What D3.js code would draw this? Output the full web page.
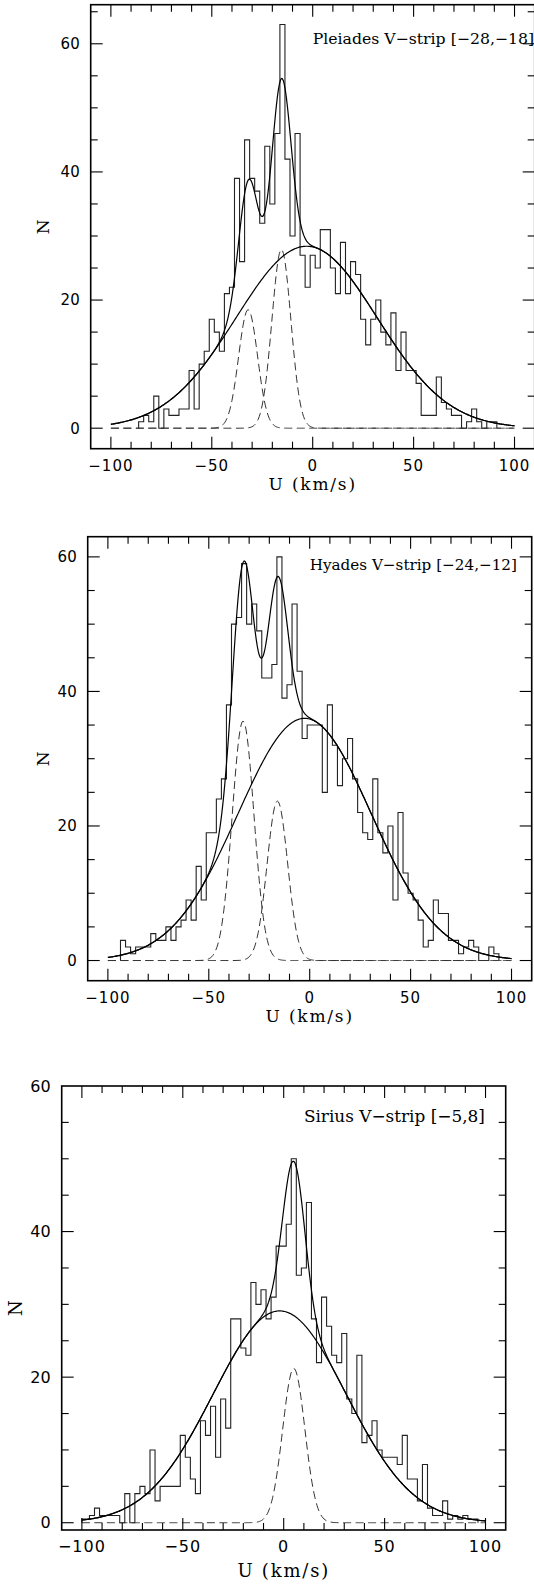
<!DOCTYPE html>
<html lang="en">
<head>
<meta charset="UTF-8">
<title>U velocity distributions in V strips</title>
<script src="https://d3js.org/d3.v7.min.js"></script>
<style>
  body { margin: 0; background: #fff; }
  svg { display: block; }
  .tick-label { font-family: "DejaVu Sans", sans-serif; fill: #000; }
  .axis-title { font-family: "DejaVu Serif", serif; fill: #000; }
  .panel-title { font-family: "DejaVu Serif", serif; fill: #000; }
  .frame { fill: none; stroke: #000; stroke-width: 1.6; }
  .tick { stroke: #000; stroke-width: 1.1; }
  .hist { fill: none; stroke: #222; stroke-width: 1.1; }
  .fit { fill: none; stroke: #000; stroke-width: 1.2; }
  .comp { fill: none; stroke: #333; stroke-width: 1; stroke-dasharray: 8 4.5; }
</style>
</head>
<body>
<script>
// histogram bins are 2.5 km/s wide, counts listed from the first bin centre
const binWidth = 2.5;

const pleiadesFirstBin = -85;
const pleiadesCounts = [
  1, 2, 1, 5, 0, 3, 2, 2, 3, 3, 9, 3, 10, 12, 17, 15, 12, 21, 22, 39,
  26, 45, 39, 37, 32, 44, 35, 46, 63, 42, 30, 46, 27, 22, 27, 25, 31, 31, 25, 21,
  29, 21, 26, 24, 17, 13, 17, 20, 15, 13, 18, 9, 15, 9, 9, 7, 2, 2, 2, 8,
  4, 3, 2, 2, 0, 1, 3, 1, 0, 1, 1
];

const hyadesFirstBin = -92.5;
const hyadesCounts = [
  3, 2, 1, 2, 2, 2, 4, 3, 3, 5, 3, 5, 6, 9, 6, 14, 9, 19, 19, 24,
  27, 38, 50, 51, 59, 50, 53, 49, 42, 42, 44, 60, 39, 41, 53, 43, 33, 35, 35, 35,
  25, 38, 32, 26, 30, 33, 27, 22, 19, 18, 27, 19, 16, 20, 9, 22, 13, 10, 9, 6,
  2, 3, 9, 7, 7, 3, 3, 1, 2, 3, 2, 0, 0, 2, 1
];

const siriusFirstBin = -100;
const siriusCounts = [
  0.5, 0.5, 1, 2, 1, 1, 1, 1, 0, 4, 0, 4, 5, 4, 10, 3, 5, 5, 5, 5,
  12, 9, 6, 4, 14, 12, 16, 9, 17, 13, 28, 28, 24, 23, 33, 30, 32, 28, 31, 38,
  38, 41, 50, 34, 35, 44, 28, 22, 31, 27, 23, 22, 26, 17, 15, 23, 11, 12, 14, 10,
  9, 9, 9, 8, 12, 6, 6, 3, 8, 2, 1, 1, 3, 0.5, 1, 0.5, 1, 0.5, 0.5
];

// fitted gaussians: [amplitude, mean, sigma]
const pleiadesBroad = [28.4, -3, 35];
const pleiadesPeaks = [[18.5, -32, 4.7], [27.9, -15.5, 4.7]];
const hyadesBroad = [36, -2.5, 33];
const hyadesPeaks = [[35.6, -33, 5.4], [23.7, -16, 5.1]];
const siriusBroad = [29.1, -2, 33];
const siriusPeaks = [[21.2, 5, 5.5]];

const uTickMinor = d3.range(-100, 101, 10);
const uTickMajor = [-100, -50, 0, 50, 100];
const nTickMajor = [0, 20, 40, 60];

const W = 534, H = 1585;
const svg = d3.select("body").append("svg").attr("width", W).attr("height", H);

const panels = [
  { title: "Pleiades V\u2212strip [\u221228,\u221218]", first: pleiadesFirstBin, counts: pleiadesCounts,
    broad: pleiadesBroad, peaks: pleiadesPeaks, yDom: [-3.2, 66.1],
    x0: 90.7, y0: 4.7, size: 444, titleAt: [0, 60], titleSize: 15.7, font: 15, labelSize: 17, labelGap: 41, nGap: 42 },
  { title: "Hyades V\u2212strip [\u221224,\u221212]", first: hyadesFirstBin, counts: hyadesCounts,
    broad: hyadesBroad, peaks: hyadesPeaks, yDom: [-3, 63],
    x0: 87.7, y0: 536.7, size: 444, titleAt: [0, 58], titleSize: 15.2, font: 15, labelSize: 17, labelGap: 41, nGap: 39 },
  { title: "Sirius V\u2212strip [\u22125,8]", first: siriusFirstBin, counts: siriusCounts,
    broad: siriusBroad, peaks: siriusPeaks, yDom: [-1, 60],
    x0: 61.7, y0: 1086, size: 444, titleAt: [10, 55], titleSize: 16.9, font: 16, labelSize: 18, labelGap: 47, nGap: 40 }
];

const gauss = (p, u) => p[0] * Math.exp(-((u - p[1]) ** 2) / (2 * p[2] * p[2]));
const uGrid = d3.range(-100, 100.01, 0.5);
const fmt = v => (v < 0 ? "\u2212" + Math.abs(v) : String(v));

panels.forEach(p => {
  const x = d3.scaleLinear().domain([-110, 110]).range([p.x0, p.x0 + p.size]);
  const y = d3.scaleLinear().domain(p.yDom).range([p.y0 + p.size, p.y0]);
  const g = svg.append("g");
  const line = d3.line().x(d => x(d[0])).y(d => y(d[1]));

  // histogram as steps
  const pts = [];
  p.counts.forEach((c, i) => {
    const lo = Math.max(-100, p.first + i * binWidth - binWidth / 2);
    const hi = Math.min(100, p.first + i * binWidth + binWidth / 2);
    if (i === 0) pts.push([lo, 0]);
    pts.push([lo, c], [hi, c]);
    if (i === p.counts.length - 1) pts.push([hi, 0]);
  });
  g.append("path").attr("class", "hist").attr("d", line(pts));

  // dashed narrow components
  p.peaks.forEach(pk => {
    g.append("path").attr("class", "comp").attr("d", line(uGrid.map(u => [u, gauss(pk, u)])));
  });
  // broad component and total fit
  g.append("path").attr("class", "fit").attr("d", line(uGrid.map(u => [u, gauss(p.broad, u)])));
  g.append("path").attr("class", "fit").attr("stroke-width", 1)
    .attr("d", line(uGrid.map(u => [u, gauss(p.broad, u) + d3.sum(p.peaks, pk => gauss(pk, u))])));

  // frame
  const [xl, xr] = x.range(), [yb, yt] = y.range();
  g.append("rect").attr("class", "frame").attr("x", xl).attr("y", yt)
    .attr("width", xr - xl).attr("height", yb - yt);

  // ticks on all four sides, inward
  uTickMinor.forEach(u => {
    const len = uTickMajor.includes(u) ? 12 : 7;
    g.append("line").attr("class", "tick").attr("x1", x(u)).attr("x2", x(u)).attr("y1", yb).attr("y2", yb - len);
    g.append("line").attr("class", "tick").attr("x1", x(u)).attr("x2", x(u)).attr("y1", yt).attr("y2", yt + len);
  });
  d3.range(0, p.yDom[1], 5).forEach(n => {
    const len = n % 20 === 0 ? 12 : 7;
    g.append("line").attr("class", "tick").attr("y1", y(n)).attr("y2", y(n)).attr("x1", xl).attr("x2", xl + len);
    g.append("line").attr("class", "tick").attr("y1", y(n)).attr("y2", y(n)).attr("x1", xr).attr("x2", xr - len);
  });

  g.selectAll(".xl").data(uTickMajor).join("text").attr("class", "tick-label")
    .style("font-size", p.font + "px").style("letter-spacing", "1px")
    .attr("x", d => x(d)).attr("y", yb + 22).attr("text-anchor", "middle").text(fmt);
  g.selectAll(".yl").data(nTickMajor.filter(n => n <= p.yDom[1])).join("text").attr("class", "tick-label")
    .style("font-size", p.font + "px")
    .attr("x", xl - 11).attr("y", d => y(d)).attr("dy", "0.36em").attr("text-anchor", "end").text(d => d);

  g.append("text").attr("class", "axis-title").style("font-size", p.labelSize + "px").style("letter-spacing", "1.8px")
    .attr("x", (xl + xr) / 2).attr("y", yb + p.labelGap).attr("text-anchor", "middle").text("U (km/s)");
  g.append("text").attr("class", "axis-title").style("font-size", p.labelSize + "px")
    .attr("transform", `translate(${xl - p.nGap},${(yb + yt) / 2}) rotate(-90)`)
    .attr("text-anchor", "middle").text("N");

  g.append("text").attr("class", "panel-title").style("font-size", p.titleSize + "px")
    .attr("x", x(p.titleAt[0])).attr("y", y(p.titleAt[1])).text(p.title);
});
</script>
</body>
</html>
